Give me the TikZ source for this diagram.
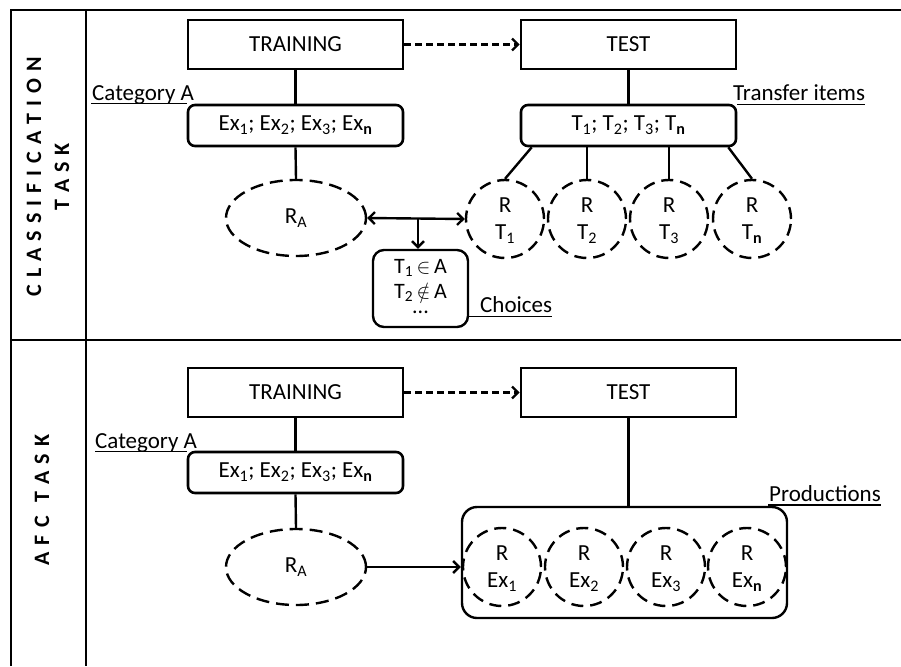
\documentclass[tikz,border=0pt]{standalone}
\usepackage{fontspec}
\setmainfont{Carlito}
\usetikzlibrary{arrows.meta,shapes.geometric,calc}
\newcommand\lab{\fontsize{23}{27}\selectfont}
\newcommand\rotf{\fontsize{22}{26}\selectfont\bfseries}
\def\spaceit#1{\ifx\relax#1\else#1\kern7pt\expandafter\spaceit\fi}
\newcommand\sbn{\textsubscript{\textbf{n}}}
\begin{document}
\begin{tikzpicture}[x=1pt,y=-1pt,
  frame/.style={line width=2.2pt},
  box/.style={draw, line width=2.6pt, minimum width=215pt, minimum height=49pt, inner sep=0pt, font=\lab},
  rbox/.style={box, rounded corners=7pt, minimum height=41pt},
  dcirc/.style={draw, circle, minimum size=78pt, inner sep=0pt, line width=2.4pt, dash pattern=on 12pt off 7pt, align=center, font=\lab, text depth=0pt},
  dell/.style={draw, ellipse, minimum width=140pt, minimum height=76pt, inner sep=0pt, line width=2.4pt, dash pattern=on 13pt off 7pt, font=\lab},
  conn/.style={line width=2.4pt},
  arr/.style={line width=2.4pt, -{Straight Barb[length=6pt,width=12pt,line width=2.4pt]}},
  darr/.style={line width=2.4pt, {Straight Barb[length=6pt,width=12pt,line width=2.4pt]}-{Straight Barb[length=6pt,width=12pt,line width=2.4pt]}},
  dasharr/.style={line width=2.6pt, dash pattern=on 7pt off 4pt, -{Straight Barb[length=6pt,width=12pt,line width=2.4pt]}},
  uline/.style={line width=1.6pt},
  lbl/.style={anchor=base west, font=\lab, inner sep=0pt},
  chl/.style={anchor=base, font=\fontsize{22}{26}\selectfont, inner sep=0pt}
]
\useasboundingbox (0,0) rectangle (901,666);

% frame
\draw[frame] (11,666) -- (11,10) -- (901,10);
\draw[frame] (86,10) -- (86,666);
\draw[frame] (11,340) -- (901,340);

% side labels
\node[rotate=90, font=\rotf, inner sep=0pt] (lcl) at (34,177) {\spaceit CLASSIFICATIO\relax N};
\node[rotate=90, font=\rotf, inner sep=0pt] (lts) at (62,177) {\spaceit TAS\relax K};
\node[rotate=90, font=\rotf, inner sep=0pt] (lafc) at (42,500) {\spaceit AFC\relax\kern7pt\spaceit TAS\relax K};

% ===== Classification task =====
\node[box] (tr1) at (295.5,44.5) {TRAINING};
\node[box] (te1) at (628.5,44.5) {TEST};
\draw[dasharr] (tr1.east) -- (te1.west);

\node[rbox] (ex1) at (295.5,125.5) {Ex\textsubscript{1}; Ex\textsubscript{2}; Ex\textsubscript{3}; Ex\sbn};
\node[rbox] (tt1) at (628.5,125.5) {T\textsubscript{1}; T\textsubscript{2}; T\textsubscript{3}; T\sbn};
\draw[conn] (tr1.south) -- (ex1.north);
\draw[conn] (te1.south) -- (tt1.north);

\node[dell] (ra1) at (296,218) {R\textsubscript{A}};
\draw[conn] (ex1.south) -- (ra1.north);

\node[dcirc] (c11) at (505,219) {R\\[0pt]T\textsubscript{1}};
\node[dcirc] (c12) at (587,219) {R\\[0pt]T\textsubscript{2}};
\node[dcirc] (c13) at (669,219) {R\\[0pt]T\textsubscript{3}};
\node[dcirc] (c14) at (752,219) {R\\[0pt]T\sbn};
\draw[conn] ([xshift=12pt]tt1.south west) -- (c11.north);
\draw[conn] (c12.north |- tt1.south) -- (c12.north);
\draw[conn] (c13.north |- tt1.south) -- (c13.north);
\draw[conn] ([xshift=-9pt]tt1.south east) -- (c14.north);

\node[draw, line width=2.4pt, rounded corners=11pt, minimum width=95pt, minimum height=77pt, inner sep=0pt] (ch) at (420.5,288.5) {};
\node[chl] (ch1) at (420.5,273) {T\textsubscript{1}\,$\in$\,A};
\node[chl] (ch2) at (420.5,298) {T\textsubscript{2}\,$\notin$\,A};
\node[chl, text height=3pt, text depth=0pt] (ch3) at (420.5,313) {...};

\draw[darr] (ra1.east) -- (c11.west);
\coordinate (mid) at ($(ra1.east)!0.52!(c11.west)$);
\draw[arr] (mid) -- (mid |- ch.north);

\node[lbl] (cat1) at (92,100) {Category A};
\draw[uline] (91,103.5) -- (ex1.west |- 0,103.5);
\node[lbl] (tri) at (733,100) {Transfer items};
\draw[uline] (tt1.east |- 0,104.5) -- (tri.east |- 0,104.5);
\node[lbl] (cho) at (480,312) {Choices};
\draw[uline] (ch.east |- 0,316.5) -- (cho.east |- 0,316.5);

% ===== AFC task =====
\node[box] (tr2) at (295.5,392.5) {TRAINING};
\node[box] (te2) at (628.5,392.5) {TEST};
\draw[dasharr] (tr2.east) -- (te2.west);

\node[rbox] (ex2) at (295.5,472.5) {Ex\textsubscript{1}; Ex\textsubscript{2}; Ex\textsubscript{3}; Ex\sbn};
\draw[conn] (tr2.south) -- (ex2.north);
\node[dell] (ra2) at (296,567) {R\textsubscript{A}};
\draw[conn] (ex2.south) -- (ra2.north);

\node[draw, line width=2.4pt, rounded corners=15pt, minimum width=325pt, minimum height=111pt, inner sep=0pt] (prod) at (624.5,562.5) {};
\node[dcirc] (c21) at (502,567) {R\\[0pt]Ex\textsubscript{1}};
\node[dcirc] (c22) at (584,567) {R\\[0pt]Ex\textsubscript{2}};
\node[dcirc] (c23) at (666,567) {R\\[0pt]Ex\textsubscript{3}};
\node[dcirc] (c24) at (747,567) {R\\[0pt]Ex\sbn};
\draw[conn] (te2.south) -- (te2.south |- prod.north);
\draw[arr] (ra2.east) -- (ra2.east -| prod.west);

\node[lbl] (cat2) at (95,448) {Category A};
\draw[uline] (95,451.5) -- (ex2.west |- 0,451.5);
\node[lbl] (pro) at (769,501) {Productions};
\draw[uline] (768,505) -- (pro.east |- 0,505);
\end{tikzpicture}
\end{document}
